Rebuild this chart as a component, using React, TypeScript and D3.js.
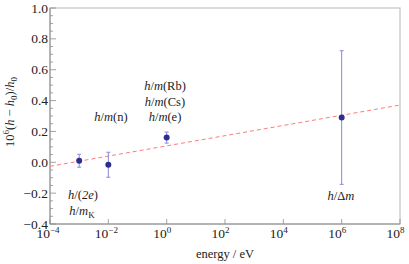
import { useEffect, useRef } from "react";
import * as d3 from "d3";

// measurements: energy (eV), value, error
const energies = [1e-3, 1e-2, 1e0, 1e6];
const values = [0.01, -0.016, 0.16, 0.29];
const errors = [0.042, 0.081, 0.036, 0.433];

// fitted dashed line, endpoints
const fitEnergies = [1e-4, 1e8];
const fitValues = [-0.026, 0.371];

const xTickExps = [-4, -2, 0, 2, 4, 6, 8];
const yTicks = [-0.4, -0.2, 0, 0.2, 0.4, 0.6, 0.8, 1.0];

const FONT = "'Liberation Serif', serif";

export default function App() {
  const ref = useRef<SVGSVGElement>(null);

  useEffect(() => {
    const svg = d3.select(ref.current);
    svg.selectAll("*").remove();

    const width = 409;
    const height = 264;
    const margin = { top: 8, right: 9, bottom: 40, left: 50 };
    const fs = 12.5;

    const x = d3.scaleLog()
      .domain([1e-4, 1e8])
      .range([margin.left, width - margin.right]);

    const y = d3.scaleLinear()
      .domain([-0.4, 1.0])
      .range([height - margin.bottom, margin.top]);

    const frame = "#8c8c8c";

    // frame
    svg.append("rect")
      .attr("x", margin.left)
      .attr("y", margin.top)
      .attr("width", width - margin.left - margin.right)
      .attr("height", height - margin.top - margin.bottom)
      .attr("fill", "none")
      .attr("stroke", "#c4c4c4")
      .attr("stroke-width", 1.2);

    // y axis
    const yMinor = d3.range(-0.4, 1.0001, 0.05);
    svg.append("g")
      .selectAll("line")
      .data(yMinor)
      .join("line")
      .attr("x1", margin.left)
      .attr("x2", d => margin.left + (Math.abs(Math.round(d * 5) - d * 5) < 1e-6 ? 6 : 3))
      .attr("y1", d => y(d))
      .attr("y2", d => y(d))
      .attr("stroke", frame)
      .attr("stroke-width", 0.8);

    svg.append("line")
      .attr("x1", margin.left).attr("x2", margin.left)
      .attr("y1", margin.top).attr("y2", height - margin.bottom)
      .attr("stroke", frame);

    svg.append("g")
      .selectAll("text")
      .data(yTicks)
      .join("text")
      .attr("x", margin.left - 2)
      .attr("y", d => y(d) + 4.5)
      .attr("text-anchor", "end")
      .style("font-family", FONT)
      .attr("font-size", fs + 1)
      .attr("fill", "#222")
      .text(d => d3.format(".1f")(d).replace("-", "\u2212"));

    // x axis
    svg.append("line")
      .attr("x1", margin.left).attr("x2", width - margin.right)
      .attr("y1", height - margin.bottom).attr("y2", height - margin.bottom)
      .attr("stroke", frame);

    svg.append("g")
      .selectAll("line")
      .data(xTickExps)
      .join("line")
      .attr("x1", d => x(Math.pow(10, d)))
      .attr("x2", d => x(Math.pow(10, d)))
      .attr("y1", height - margin.bottom)
      .attr("y2", height - margin.bottom - 5)
      .attr("stroke", frame)
      .attr("stroke-width", 0.8);

    const xg = svg.append("g")
      .style("font-family", FONT)
      .attr("fill", "#222");
    xg.selectAll("text.base")
      .data(xTickExps)
      .join("text")
      .attr("class", "base")
      .attr("x", d => x(Math.pow(10, d)))
      .attr("y", height - margin.bottom + 14)
      .attr("text-anchor", "end")
      .style("font-family", FONT)
      .attr("font-size", fs + 1)
      .text("10");
    xg.selectAll("text.exp")
      .data(xTickExps)
      .join("text")
      .attr("class", "exp")
      .attr("x", d => x(Math.pow(10, d)))
      .attr("y", height - margin.bottom + 9)
      .style("font-family", FONT)
      .attr("font-size", 9)
      .text(d => String(d).replace("-", "\u2212"));

    // axis titles
    svg.append("text")
      .attr("x", (margin.left + width - margin.right) / 2)
      .attr("y", 258)
      .attr("text-anchor", "middle")
      .style("font-family", FONT)
      .attr("font-size", fs)
      .attr("fill", "#222")
      .text("energy / eV");

    const yl = svg.append("text")
      .attr("transform", `translate(14,${(margin.top + height - margin.bottom) / 2 - 4}) rotate(-90)`)
      .attr("text-anchor", "middle")
      .style("font-family", FONT)
      .attr("font-size", fs)
      .attr("fill", "#222");
    yl.append("tspan").text("10");
    yl.append("tspan").attr("dy", -5).attr("font-size", 9).text("6");
    yl.append("tspan").attr("dy", 5).text("(");
    yl.append("tspan").attr("font-style", "italic").text("h");
    yl.append("tspan").text(" \u2212 ");
    yl.append("tspan").attr("font-style", "italic").text("h");
    yl.append("tspan").attr("dy", 3).attr("font-size", 9).text("0");
    yl.append("tspan").attr("dy", -3).text(")/");
    yl.append("tspan").attr("font-style", "italic").text("h");
    yl.append("tspan").attr("dy", 3).attr("font-size", 9).text("0");

    // fit line
    const fit = fitEnergies.map((e, i) => [e, fitValues[i]] as [number, number]);
    svg.append("path")
      .attr("d", d3.line<[number, number]>().x(d => x(d[0])).y(d => y(d[1]))(fit))
      .attr("fill", "none")
      .attr("stroke", "#ff7b7b")
      .attr("stroke-width", 1)
      .attr("stroke-dasharray", "4,3");

    // error bars
    const pts = energies.map((e, i) => ({ e, v: values[i], err: errors[i] }));
    const eb = svg.append("g")
      .selectAll("g")
      .data(pts)
      .join("g")
      .attr("stroke", "#8a8ad6")
      .attr("stroke-width", 1);
    eb.append("line")
      .attr("x1", d => x(d.e)).attr("x2", d => x(d.e))
      .attr("y1", d => y(d.v - d.err)).attr("y2", d => y(d.v + d.err));
    eb.append("line")
      .attr("x1", d => x(d.e) - 2).attr("x2", d => x(d.e) + 2)
      .attr("y1", d => y(d.v - d.err)).attr("y2", d => y(d.v - d.err));
    eb.append("line")
      .attr("x1", d => x(d.e) - 2).attr("x2", d => x(d.e) + 2)
      .attr("y1", d => y(d.v + d.err)).attr("y2", d => y(d.v + d.err));

    svg.append("g")
      .selectAll("circle")
      .data(pts)
      .join("circle")
      .attr("cx", d => x(d.e))
      .attr("cy", d => y(d.v))
      .attr("r", 3)
      .attr("fill", "#2e2e8e");

    // annotations
    const note = (cx: number, by: number, parts: [string, boolean, string?][]) => {
      const t = svg.append("text")
        .attr("x", cx)
        .attr("y", by)
        .attr("text-anchor", "middle")
        .style("font-family", FONT)
        .attr("font-size", fs)
        .attr("fill", "#222");
      parts.forEach(([s, it, sub]) => {
        const sp = t.append("tspan").text(s);
        if (it) sp.attr("font-style", "italic");
        if (sub) {
          t.append("tspan").attr("dy", 3).attr("font-size", 9).text(sub);
        }
      });
    };

    note(83, 199, [["h", true], ["/(", false], ["2e", true], [")", false]]);
    note(82, 215, [["h", true], ["/", false], ["m", true, "K"]]);
    note(111, 121, [["h", true], ["/", false], ["m", true], ["(n)", false]]);
    note(165, 90, [["h", true], ["/", false], ["m", true], ["(Rb)", false]]);
    note(165, 106, [["h", true], ["/", false], ["m", true], ["(Cs)", false]]);
    note(165, 121, [["h", true], ["/", false], ["m", true], ["(e)", false]]);
    note(341, 200, [["h", true], ["/\u0394", false], ["m", true]]);
  }, []);

  return (
    <svg
      ref={ref}
      width={409}
      height={264}
      style={{ position: "absolute", left: 0, top: 0, background: "#fff", fontFamily: FONT }}
    />
  );
}
